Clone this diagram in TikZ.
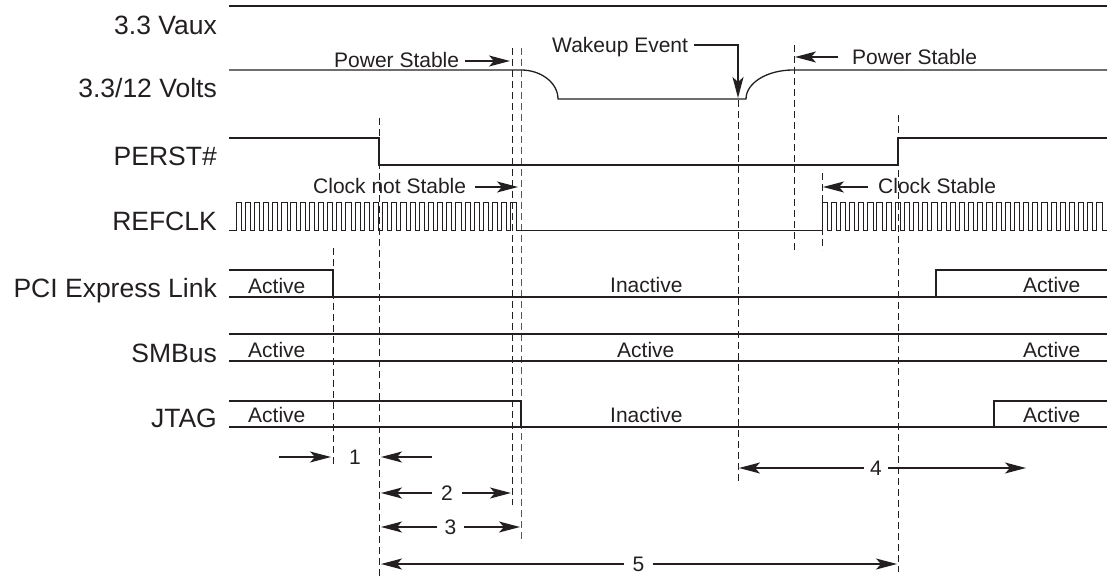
\documentclass[tikz,border=0pt]{standalone}
\usepackage{fontspec}
\setmainfont{Liberation Sans}
\usetikzlibrary{arrows.meta}
\definecolor{ink}{HTML}{231F20}
\tikzset{
  sig/.style={line width=1.3pt, color=ink, line join=miter},
  guide/.style={line width=1pt, color=ink, dash pattern=on 7pt off 4pt},
  arr/.style={line width=1.3pt, color=ink, -{Stealth[length=21pt,width=11pt,inset=5pt]}},
  lbl/.style={anchor=base east, inner sep=0pt, text=ink, font=\fontsize{26.5}{30}\selectfont},
  ann/.style={anchor=base west, inner sep=0pt, text=ink, font=\fontsize{21}{24}\selectfont},
  num/.style={inner xsep=7pt, inner ysep=0pt, text=ink, font=\fontsize{21}{24}\selectfont}
}
\begin{document}
\begin{tikzpicture}[x=1pt,y=-1pt]
\useasboundingbox (0,0) rectangle (1117,578);
% signal labels
\node[lbl] (lvaux) at (217,35) {3.3 Vaux};
\node[lbl] (lvolt) at (217,98) {3.3/12 Volts};
\node[lbl] (lperst) at (217,165) {PERST\#};
\node[lbl] (lclk) at (217,230) {REFCLK};
\node[lbl] (lpci) at (217,297) {PCI Express Link};
\node[lbl] (lsmb) at (217,362) {SMBus};
\node[lbl] (ljtag) at (217,427) {JTAG};

% guide lines (dashed)
\draw[guide] (333,248) -- (333,466);
\draw[guide] (379,118) -- (379,578);
\draw[guide] (512,48) -- (512,505);
\draw[guide, color=ink!75] (521,48) -- (521,539);
\draw[guide] (738,100) -- (738,483);
\draw[guide] (794,45) -- (794,250);
\draw[guide] (822,173) -- (822,250);
\draw[guide] (898,115) -- (898,572);

% 3.3 Vaux
\draw[sig] (229,6) -- (1107,6);
% 3.3/12 Volts
\draw[sig] (229,70) -- (521,70) .. controls (541.4,70) and (558,83) .. (558,99)
  -- (746,99) .. controls (746,83) and (767,70) .. (793,70) -- (1107,70);
% PERST#
\draw[sig] (229,138) -- (379,138) -- (379,165) -- (898,165) -- (898,138) -- (1107,138);
% REFCLK
\draw[sig, line width=1pt] (229,230) foreach \i in {0,...,30} { -- (236+9.16*\i,230) -- (236+9.16*\i,202) -- (241.2+9.16*\i,202) -- (241.2+9.16*\i,230) }
  -- (822,230) foreach \i in {0,...,30} { -- (822+9.16*\i,230) -- (822+9.16*\i,202) -- (827.2+9.16*\i,202) -- (827.2+9.16*\i,230) }
  -- (1107,230);
% PCI Express Link
\draw[sig] (229,297) -- (1107,297);
\draw[sig] (229,270) -- (333,270) -- (333,297);
\draw[sig] (936,297) -- (936,270) -- (1107,270);
% SMBus
\draw[sig] (229,334) -- (1107,334);
\draw[sig] (229,361) -- (1107,361);
% JTAG
\draw[sig] (229,427) -- (1107,427);
\draw[sig] (229,401) -- (521,401) -- (521,427);
\draw[sig] (994,427) -- (994,401) -- (1107,401);

% state texts
\node[ann] (pa1) at (248,293) {Active};
\node[ann] (pi) at (610,292) {Inactive};
\node[ann] (pa2) at (1023,292) {Active};
\node[ann] (sa1) at (248,357) {Active};
\node[ann] (sa2) at (617,357) {Active};
\node[ann] (sa3) at (1023,357) {Active};
\node[ann] (ja1) at (248,422) {Active};
\node[ann] (ji) at (610,422) {Inactive};
\node[ann] (ja2) at (1023,422) {Active};

% annotations
\node[ann] (ps1) at (334,67) {Power Stable};
\coordinate (ps1s) at (465,61);
\coordinate (ps1t) at (510,61);
\draw[arr] (ps1s) -- (ps1t);

\node[ann] (we) at (552,53) {Wakeup Event};
\coordinate (wes) at (694,45);
\coordinate (wet) at (738,98);
\draw[arr] (wes) -| (wet);

\node[ann] (ps2) at (852,65) {Power Stable};
\coordinate (ps2s) at (838,57);
\coordinate (ps2t) at (795,57);
\draw[arr] (ps2s) -- (ps2t);

\node[ann] (cns) at (313,193) {Clock not Stable};
\coordinate (cnss) at (475,187);
\coordinate (cnst) at (518,187);
\draw[arr] (cnss) -- (cnst);

\node[ann] (cs) at (878,193) {Clock Stable};
\coordinate (css) at (868,187);
\coordinate (cst) at (823,187);
\draw[arr] (css) -- (cst);

% timing intervals
\node[num] (n1) at (355,457) {1};
\coordinate (n1a) at (279,457);
\coordinate (n1b) at (331,457);
\coordinate (n1c) at (432,457);
\coordinate (n1d) at (381,457);
\draw[arr] (n1a) -- (n1b);
\draw[arr] (n1c) -- (n1d);

\node[num, inner xsep=9pt] (n2) at (447,493) {2};
\coordinate (n2l) at (381,493);
\coordinate (n2r) at (511,493);
\draw[arr] (n2) -- (n2l);
\draw[arr] (n2) -- (n2r);

\node[num] (n3) at (450.5,527) {3};
\coordinate (n3l) at (381,527);
\coordinate (n3r) at (520,527);
\draw[arr] (n3) -- (n3l);
\draw[arr] (n3) -- (n3r);

\node[num, inner xsep=6pt] (n4) at (876,468) {4};
\coordinate (n4l) at (739,468);
\coordinate (n4r) at (1026,468);
\draw[arr] (n4) -- (n4l);
\draw[arr] (n4) -- (n4r);

\node[num, inner xsep=8pt] (n5) at (638.5,564) {5};
\coordinate (n5l) at (381,564);
\coordinate (n5r) at (897,564);
\draw[arr] (n5) -- (n5l);
\draw[arr] (n5) -- (n5r);
\end{tikzpicture}
\end{document}
